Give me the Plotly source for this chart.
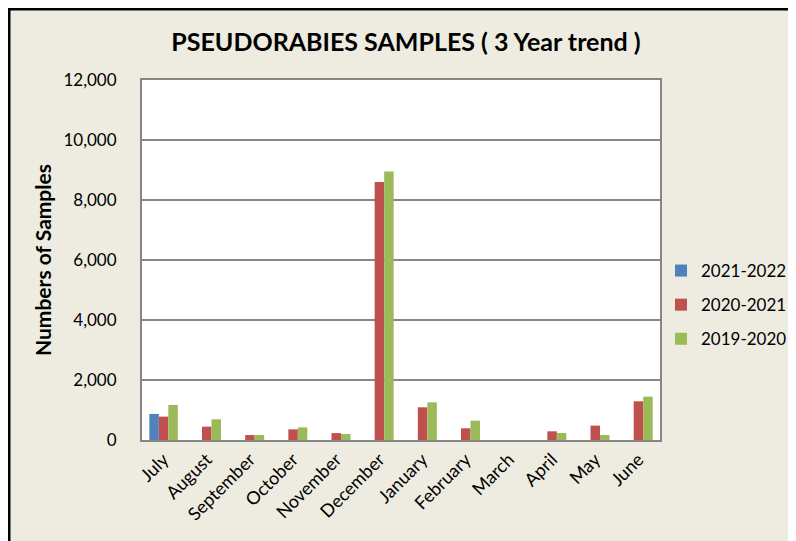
import plotly.graph_objects as go

months = ["July", "August", "September", "October", "November", "December",
          "January", "February", "March", "April", "May", "June"]
s2021_2022 = [870, 0, 0, 0, 0, 0, 0, 0, 0, 0, 0, 0]
s2020_2021 = [780, 445, 165, 355, 230, 8600, 1090, 390, 0, 290, 480, 1290]
s2019_2020 = [1170, 690, 165, 420, 200, 8950, 1255, 645, 0, 235, 165, 1445]

series = [("2021-2022", s2021_2022, "#4F81BD"),
          ("2020-2021", s2020_2021, "#C0504D"),
          ("2019-2020", s2019_2020, "#9BBB59")]

OX, OY = 8, 8  # page offset of the figure inside the browser window
W, H = 796 - OX, 541 - OY

def fx(x):  # reference pixel -> figure pixel
    return x - OX
def fy(y):
    return y - OY

L, R, T, B = fx(142), W - fx(660), fy(80), H - fy(440)
pw, ph = W - L - R, H - T - B

def px(x):
    return (fx(x) - L) / pw
def py(y):
    return (H - B - fy(y)) / ph

fig = go.Figure()
for i, (name, vals, col) in enumerate(series):
    fig.add_trace(go.Bar(x=months, y=vals, name=name, marker_color=col,
                         marker_line_width=0, legendgroup=f"g{i}"))

fig.update_layout(
    width=W, height=H,
    margin=dict(l=L, r=R, t=T, b=B, autoexpand=False),
    paper_bgcolor="#EEECE1", plot_bgcolor="#FFFFFF",
    barmode="group", bargap=0.34, bargroupgap=0,
    font=dict(family="Lato", size=15, color="#000000"),
    title=dict(text="<b>PSEUDORABIES SAMPLES ( 3 Year trend )</b>",
               x=fx(406) / W, xanchor="center", y=1 - fy(42) / H, yanchor="middle",
               font=dict(size=25, family="Lato")),
    legend=dict(x=px(661), xanchor="left", y=py(253), yanchor="top",
                bgcolor="rgba(0,0,0,0)", font=dict(size=17),
                tracegroupgap=9, itemwidth=30),
    xaxis=dict(tickangle=-45, showline=True, linecolor="#868686", linewidth=2,
               mirror=True, ticks="", tickfont=dict(size=18)),
    yaxis=dict(range=[0, 12000], dtick=2000, tickformat=",d",
               showgrid=True, gridcolor="#868686", gridwidth=2,
               showline=True, linecolor="#868686", linewidth=2, mirror=True,
               ticks="", ticklabelstandoff=20, zeroline=False,
               tickfont=dict(size=17),
               title=dict(text="<b>Numbers of Samples</b>", standoff=6,
                          font=dict(size=21))),
    showlegend=True,
)

# outer chart border (left and top edges visible in the reference)
fig.add_shape(type="line", xref="paper", yref="paper",
              x0=-L / pw + 1 / pw, x1=-L / pw + 1 / pw, y0=-B / ph, y1=(H - B) / ph,
              line=dict(color="#000000", width=3), layer="above")
fig.add_shape(type="line", xref="paper", yref="paper",
              x0=-L / pw, x1=(W - L) / pw, y0=(H - B - 1) / ph, y1=(H - B - 1) / ph,
              line=dict(color="#000000", width=3), layer="above")

fig.write_html("out.html")
